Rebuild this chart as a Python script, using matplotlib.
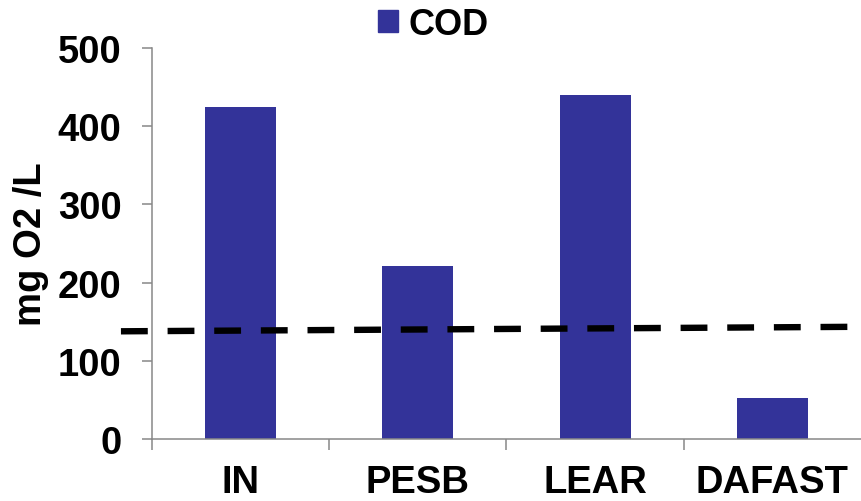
import numpy as np
import matplotlib.pyplot as plt
from matplotlib.patches import Patch

# Datos
categorias = ['IN', 'PESB', 'LEAR', 'DAFAST']
cod = [425, 221, 440, 53]
limite_x = [-0.675, 3.5]
limite_y = [137.7, 143.5]

plt.rcParams['font.family'] = ['Liberation Sans', 'DejaVu Sans']
plt.rcParams['font.weight'] = 'bold'

fig = plt.figure(figsize=(8.61, 5.02), dpi=100)
ax = fig.add_axes([0.1765, 0.1235, 0.8235, 0.779])

x = np.arange(len(categorias))
ax.bar(x, cod, width=0.4, color='#333399', zorder=2)

# Línea discontinua (límite)
ax.plot(limite_x, limite_y, color='black', linewidth=4.6, dashes=(4.2, 3.1),
        clip_on=False, zorder=3)

ax.set_xlim(-0.5, 3.5)
ax.set_ylim(0, 500)
ax.set_yticks([0, 100, 200, 300, 400, 500])

# Marcas entre categorías, etiquetas centradas
ax.set_xticks([-0.5, 0.5, 1.5, 2.5])
ax.set_xticklabels([])
ax.set_xticks(x, minor=True)
ax.set_xticklabels(categorias, minor=True)
ax.tick_params(axis='x', which='minor', length=0, pad=18, labelsize=27.5)
ax.tick_params(axis='x', which='major', length=8, width=1.1, color='#888888')
ax.tick_params(axis='y', length=7, width=1.1, color='#888888', pad=15, labelsize=27.5)

for s in ['top', 'right']:
    ax.spines[s].set_visible(False)
for s in ['left', 'bottom']:
    ax.spines[s].set_color('#888888')
    ax.spines[s].set_linewidth(1.1)

ax.set_ylabel('mg O2 /L', fontsize=27.5, fontweight='bold')
ax.yaxis.set_label_coords(-0.145, 0.5)

fig.legend(handles=[Patch(color='#333399', label='COD')], loc='center',
           bbox_to_anchor=(0.503, 0.95), frameon=False, fontsize=26,
           handlelength=0.55, handleheight=0.55, handletextpad=0.3)

fig.savefig('out.png', dpi=100)
